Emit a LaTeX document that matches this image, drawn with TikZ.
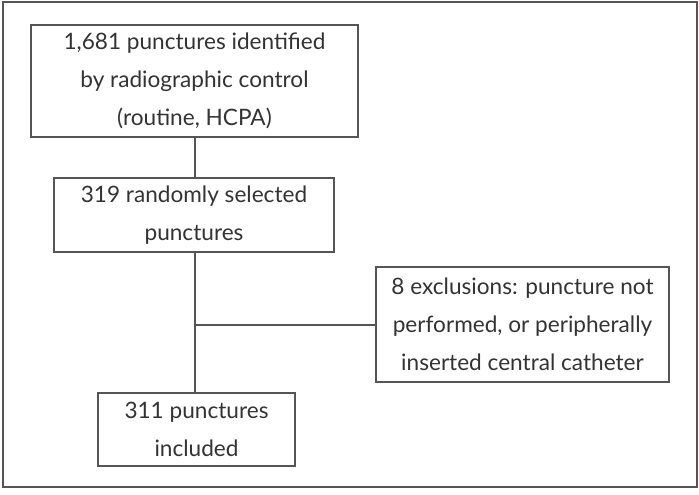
\documentclass[tikz,border=0pt]{standalone}
\usepackage{fontspec}
\setmainfont{Lato}
\definecolor{framegray}{HTML}{555555}
\definecolor{textgray}{HTML}{333333}
\tikzset{
	flowbox/.style={shape=rectangle, draw=framegray, line width=0.75pt, text=textgray, align=center, inner sep=0pt,
		font=\fontsize{11.3}{19}\selectfont},
	link/.style={-, draw=framegray, line width=0.8pt}
}
\begin{document}
\begin{tikzpicture}[x=0.5pt, y=-0.5pt]
	\useasboundingbox (0,0) rectangle (699,494);
	\draw[framegray, line width=0.75pt] (3,2) rectangle (697,487);

	\node[flowbox, minimum width=163.5pt, minimum height=56pt]   (found)    at (194.5,81)  {1,681 punctures identified\\by radiographic control\\(routine, HCPA)};
	\node[flowbox, minimum width=140pt, minimum height=37pt]     (sample)   at (194,215)   {319 randomly selected\\punctures};
	\node[flowbox, minimum width=146.5pt, minimum height=57.5pt] (excluded) at (522.5,324.5) {8 exclusions: puncture not\\performed, or peripherally\\inserted central catheter};
	\node[flowbox, minimum width=98.5pt, minimum height=36.5pt]  (included) at (196.5,429.5) {311 punctures\\included};

	\coordinate (split) at (195,325);

	\path [link] (found.south -| split)  edge (sample.north -| split);
	\path [link] (sample.south -| split) edge (included.north -| split);
	\path [link] (split)                 edge (split -| excluded.west);
\end{tikzpicture}
\end{document}
